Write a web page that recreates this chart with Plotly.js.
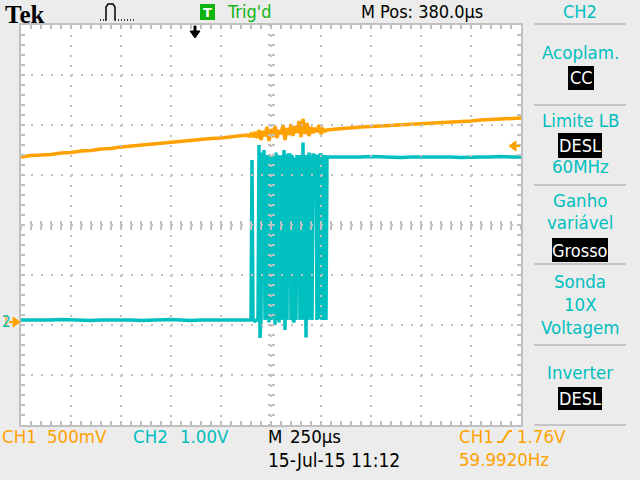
<!DOCTYPE html>
<html><head><meta charset="utf-8">
<script src="https://cdn.plot.ly/plotly-3.0.1.min.js"></script>
<style>html,body{margin:0;padding:0;background:#ececec;}#chart{width:640px;height:480px;}</style>
</head><body><div id="chart"></div>
<script>
// ---- DATA ----
// CH1 (orange), volts; time in microseconds relative to trigger
const ch1PreStart = -870, ch1PreStep = 50;
const ch1Pre = [1.63,1.645,1.65,1.655,1.67,1.675,1.69,1.695,1.71,1.715,1.73,1.74,1.745,1.76,1.765,1.78,1.785,1.80,1.805,1.815,1.82,1.83,1.84];
const ch1BurstStart = 260, ch1BurstStep = 10;
const ch1Burst = [1.85,1.84,1.86,1.83,1.88,1.82,1.90,1.80,1.89,1.84,
                  1.93,1.79,1.91,1.83,1.94,1.82,1.90,1.86,1.95,1.80,
                  1.92,1.85,1.96,1.84,1.94,1.87,1.99,1.83,2.01,1.86,
                  1.97,1.84,1.93,1.87,1.92,1.88,1.95,1.86,1.91,1.89,1.90];
const ch1PostStart = 680, ch1PostStep = 50;
const ch1Post = [1.905,1.915,1.92,1.93,1.935,1.94,1.945,1.955,1.96,1.965,1.97,1.975,1.98,1.985,1.99,2.00,2.005,2.01,2.015,2.02];

// CH2 (cyan), volts
const ch2PreStart = -870, ch2PreStep = 50;
const ch2Pre = [0,0,-0.01,0,0.01,0,0,-0.01,0,0,0.01,0,-0.01,0,0,0.01,0,-0.01,0,0,0.01,0,0];
const ch2BurstStart = 275, ch2BurstStep = 5;
const ch2Burst = [0,0.02,3.2,0,0,-0.02,0,0,0,3.5,
                  -0.36,0.02,3.35,2.4,3.4,0,3.3,0.02,3.3,-0.05,
                  3.3,0,3.25,0.03,3.3,-0.1,3.35,0,3.3,-0.05,
                  3.28,0,3.3,0.02,3.4,-0.2,3.3,0,3.3,3.3,
                  3.3,0,3.3,0.02,-0.05,3.25,0,3.3,2.5,3.3,
                  0,3.3,0.02,3.55,0,3.3,-0.35,3.3,0,3.35,
                  0.03,3.3,0,3.3,3.3,3.28,3.3,0,3.3,0.02,
                  3.3,3.3,0,3.3,0,3.3,0,3.26,3.26,3.26,3.26];
const ch2PostStart = 680, ch2PostStep = 50;
const ch2Post = [3.26,3.26,3.25,3.26,3.27,3.26,3.26,3.25,3.26,3.26,3.27,3.26,3.26,3.25,3.26,3.26,3.26,3.27,3.26,3.26];

// Scope settings
const timePerDiv = 250, horizPos = 380, divsX = 10, divsY = 8;
const ch1VoltsPerDiv = 0.5, ch2VoltsPerDiv = 1.0, groundDiv = -1.9;
const trigLevel = 1.76;

// Texts
const topTexts = {brand:'Tek', trig:"Trig'd", mpos:'M Pos: 380.0µs', ch:'CH2'};
const bottomTexts = {ch1:'CH1', ch1s:'500mV', ch2:'CH2', ch2s:'1.00V', m:'M', ms:'250µs', date:'15-Jul-15 11:12', tch:'CH1', tlev:'1.76V', freq:'59.9920Hz'};

// ---- helpers ----
function seq(start, step, n){const a=[];for(let i=0;i<n;i++)a.push(start+i*step);return a;}
const ch1T = [].concat(seq(ch1PreStart,ch1PreStep,ch1Pre.length), seq(ch1BurstStart,ch1BurstStep,ch1Burst.length), seq(ch1PostStart,ch1PostStep,ch1Post.length));
const ch1V = [].concat(ch1Pre, ch1Burst, ch1Post);
const ch2T = [].concat(seq(ch2PreStart,ch2PreStep,ch2Pre.length), seq(ch2BurstStart,ch2BurstStep,ch2Burst.length), seq(ch2PostStart,ch2PostStep,ch2Post.length));
const ch2V = [].concat(ch2Pre, ch2Burst, ch2Post);

const xr = [horizPos - timePerDiv*divsX/2, horizPos + timePerDiv*divsX/2];
const ch1R = [(-divsY/2 - groundDiv)*ch1VoltsPerDiv, (divsY/2 - groundDiv)*ch1VoltsPerDiv];
const ch2R = [(-divsY/2 - groundDiv)*ch2VoltsPerDiv, (divsY/2 - groundDiv)*ch2VoltsPerDiv];

const L=21, T=25, PW=500, PH=400;
const px = x => (x-L)/PW, py = y => (T+PH-y)/PH;

const ORANGE='#ffa200', CYAN='#00bfbf', GREEN='#10b410', GRID='#c0c0c0';
const NF='Liberation Sans Narrow, DejaVu Sans Condensed, Arial Narrow, sans-serif';

function txt(text,x,y,color,size,anchor,extra){
  return Object.assign({text:text,x:px(x),y:py(y),xref:'paper',yref:'paper',xanchor:anchor||'left',yanchor:'middle',
    showarrow:false,font:{family:NF,size:size||19,color:color}},extra||{});
}
function rectP(x0,y0,x1,y1,fill){return {type:'rect',xref:'paper',yref:'paper',x0:px(x0),x1:px(x1),y0:py(y0),y1:py(y1),fillcolor:fill,line:{width:0},layer:'above'};}
function lineP(x0,y0,x1,y1,color,w,dash){return {type:'line',xref:'paper',yref:'paper',x0:px(x0),x1:px(x1),y0:py(y0),y1:py(y1),line:{color:color,width:w||2,dash:dash||'solid'},layer:'above'};}
function pathP(pts,color,w){return {type:'path',xref:'paper',yref:'paper',path:'M'+pts.map(p=>px(p[0])+','+py(p[1])).join(' L'),line:{color:color,width:w||1.5},layer:'above'};}

const PC = 580; // right panel centre
const PS = 18.5;
const annotations = [
  txt(topTexts.brand,3,14.5,'#000',25,'left',{font:{family:'Liberation Serif, DejaVu Serif, serif',size:25,color:'#000',weight:'bold'}}),
  txt('T',207.5,12,'#fff',13,'center',{font:{family:'DejaVu Sans, sans-serif',size:13,color:'#fff',weight:'bold'}}),
  txt(topTexts.trig,225,11,GREEN,18),
  txt(topTexts.mpos,359,11,'#000',18),
  txt(topTexts.ch,PC,11,CYAN,18,'center'),
  // right panel
  txt('Acoplam.',PC,52,CYAN,PS,'center'),
  txt('CC',581,78,'#fff',18,'center'),
  txt('Limite LB',PC,120,CYAN,PS,'center'),
  txt('DESL',580,145,'#fff',18,'center'),
  txt('60MHz',PC,166,CYAN,PS,'center'),
  txt('Ganho',PC,200,CYAN,PS,'center'),
  txt('variável',PC,222,CYAN,PS,'center'),
  txt('Grosso',580,250,'#fff',18,'center'),
  txt('Sonda',PC,281,CYAN,PS,'center'),
  txt('10X',PC,304,CYAN,PS,'center'),
  txt('Voltagem',PC,327,CYAN,PS,'center'),
  txt('Inverter',PC,372,CYAN,PS,'center'),
  txt('DESL',580,398,'#fff',18,'center'),
  // bottom
  txt(bottomTexts.ch1,0,436,ORANGE,18.5),
  txt(bottomTexts.ch1s,45,436,ORANGE,18.5),
  txt(bottomTexts.ch2,131,436,CYAN,18.5),
  txt(bottomTexts.ch2s,178,436,CYAN,18.5),
  txt(bottomTexts.m,266,436,'#000',18.5),
  txt(bottomTexts.ms,288,436,'#000',18.5),
  txt(bottomTexts.date,266,460,'#000',19),
  txt(bottomTexts.tch,457,436,ORANGE,18.5),
  txt(bottomTexts.tlev,515,436,ORANGE,18.5),
  txt(bottomTexts.freq,457,460,ORANGE,18.5),
  // ground marker
  {text:'1',x:px(6),y:0,xref:'paper',yref:'y2',xanchor:'center',yanchor:'middle',yshift:-2,showarrow:false,font:{family:NF,size:15,color:ORANGE}},
  {text:'2',x:px(6),y:0,xref:'paper',yref:'y2',xanchor:'center',yanchor:'middle',yshift:-2,showarrow:false,font:{family:NF,size:15,color:CYAN}}
];

const shapes = [];
// dotted graticule drawn above the traces, one line per division
for(let k=1;k<divsX;k++){
  shapes.push({type:'line',xref:'x',yref:'paper',x0:xr[0]+k*timePerDiv,x1:xr[0]+k*timePerDiv,y0:1,y1:0,
    line:{color:GRID,width:2,dash:'2px,8px'},layer:'above'});
}
for(let k=1;k<divsY;k++){
  shapes.push({type:'line',xref:'paper',yref:'y',x0:0,x1:1,y0:ch1R[0]+k*ch1VoltsPerDiv,y1:ch1R[0]+k*ch1VoltsPerDiv,
    line:{color:GRID,width:2,dash:'2px,8px'},layer:'above'});
}
shapes.push(
  rectP(200,4,215,20,GREEN),
  rectP(568,66,594,90,'#000'),
  rectP(558,133,602,158,'#000'),
  rectP(552,238,608,262,'#000'),
  rectP(558,387,602,410,'#000'),
  lineP(534,24,626,24,'#c4c4c4',2),
  lineP(534,105,626,105,'#c4c4c4',2),
  lineP(534,185,626,185,'#c4c4c4',2),
  lineP(534,264,626,264,'#c4c4c4',2),
  lineP(534,345,626,345,'#c4c4c4',2),
  lineP(534,425,626,425,'#c4c4c4',2),
  lineP(100,20,105,20,'#000',1.5,'1px,2px'),
  pathP([[105,20],[106,20],[106,7],[108,4],[113,4],[115,7],[115,20],[116,20]],'#000',1.5),
  lineP(118,20,136,20,'#000',1.5,'1px,2px'),
  pathP([[497,442],[502,442],[509,431],[512,431]],ORANGE,2),
  {type:'path',xref:'x',yref:'paper',xsizemode:'pixel',ysizemode:'pixel',xanchor:0,yanchor:1,
   path:'M -1,-1 L 1,-1 L 1,-6 L 5,-6 L 0,-13 L -5,-6 L -1,-6 Z',fillcolor:'#000',line:{color:'#000',width:1},layer:'above'},
  {type:'path',xref:'paper',yref:'y',xsizemode:'pixel',ysizemode:'pixel',xanchor:1,yanchor:trigLevel,
   path:'M -12,-2 L -5,3 L -5,-7 Z',fillcolor:ORANGE,line:{color:ORANGE,width:1},layer:'above'},
  {type:'path',xref:'paper',yref:'y',xsizemode:'pixel',ysizemode:'pixel',xanchor:1,yanchor:trigLevel,
   path:'M -6,-2 L -1,-2',line:{color:ORANGE,width:2},layer:'above'},
  {type:'path',xref:'paper',yref:'y2',xsizemode:'pixel',ysizemode:'pixel',xanchor:0,yanchor:0,
   path:'M -1,-2 L -8,3 L -8,-7 Z',fillcolor:ORANGE,line:{color:ORANGE,width:1},layer:'above'},
  {type:'path',xref:'paper',yref:'y2',xsizemode:'pixel',ysizemode:'pixel',xanchor:0,yanchor:0,
   path:'M -12,-2 L -7,-2',line:{color:ORANGE,width:2},layer:'above'}
);

// main y axis = CH1 volts (frame), y2 = CH2 volts, y3 = CH1 drawn on top
const traces = [
  {x:ch1T,y:ch1V,xaxis:'x',yaxis:'y',mode:'none',hoverinfo:'skip',name:'CH1 axis'},
  {x:ch2T,y:ch2V,xaxis:'x',yaxis:'y2',mode:'lines',line:{color:CYAN,width:3.5},hoverinfo:'skip',name:'CH2'},
  {x:ch1T,y:ch1V,xaxis:'x',yaxis:'y3',mode:'lines',line:{color:ORANGE,width:3.5},hoverinfo:'skip',name:'CH1'},
  {x:ch1T,y:ch1V,xaxis:'x2',yaxis:'y3',mode:'none',hoverinfo:'skip'},
  {x:ch1T,y:ch1V,xaxis:'x3',yaxis:'y3',mode:'none',hoverinfo:'skip'},
  {x:ch1T,y:ch1V,xaxis:'x',yaxis:'y4',mode:'none',hoverinfo:'skip'},
  {x:ch1T,y:ch1V,xaxis:'x',yaxis:'y5',mode:'none',hoverinfo:'skip'}
];

const tb = {ticklen:4,tickwidth:2,tickcolor:GRID};
const tbC = {ticklen:3,tickwidth:1.5,tickcolor:GRID};
const yDiv = ch1VoltsPerDiv;
const centreX = side => Object.assign({overlaying:'x',anchor:'free',position:0.5,range:xr,tickmode:'linear',tick0:xr[0],dtick:timePerDiv/5,
   ticks:side,showline:false,showgrid:false,zeroline:false,showticklabels:false,fixedrange:true},tb);
const centreY = side => Object.assign({overlaying:'y',anchor:'free',position:0.5,range:ch1R,tickmode:'linear',tick0:ch1R[0],dtick:yDiv/5,
   ticks:side,showline:false,showgrid:false,zeroline:false,showticklabels:false,fixedrange:true},tbC);

const layout = {
  width:640,height:480,margin:{l:L,r:640-L-PW,t:T,b:480-T-PH,pad:0},
  paper_bgcolor:'#ececec',plot_bgcolor:'#ffffff',showlegend:false,
  xaxis:Object.assign({range:xr,tickmode:'linear',tick0:xr[0],dtick:timePerDiv,showgrid:false,
    ticks:'inside',showline:true,linecolor:GRID,linewidth:2,mirror:'ticks',zeroline:false,showticklabels:false,fixedrange:true,
    minor:Object.assign({dtick:timePerDiv/5,tick0:xr[0],ticks:'inside',showgrid:false},tb)},tb),
  yaxis:Object.assign({range:ch1R,tickmode:'linear',tick0:ch1R[0],dtick:yDiv,showgrid:false,
    ticks:'inside',showline:true,linecolor:GRID,linewidth:2,mirror:'ticks',zeroline:false,showticklabels:false,fixedrange:true,
    minor:Object.assign({dtick:yDiv/5,tick0:ch1R[0],ticks:'inside',showgrid:false},tb)},tb),
  yaxis2:{overlaying:'y',range:ch2R,visible:false,fixedrange:true},
  yaxis3:{overlaying:'y',range:ch1R,visible:false,fixedrange:true},
  xaxis2:centreX('inside'), xaxis3:centreX('outside'),
  yaxis4:centreY('inside'), yaxis5:centreY('outside'),
  annotations:annotations, shapes:shapes
};
Plotly.newPlot('chart',traces,layout,{staticPlot:true,displayModeBar:false});
</script></body></html>
